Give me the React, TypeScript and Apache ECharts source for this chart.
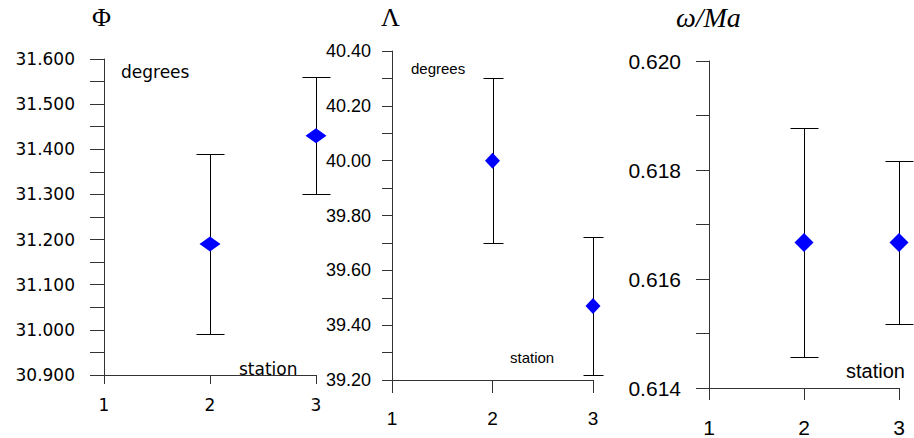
import React, { useEffect, useRef } from "react";
import * as echarts from "echarts";

// Station numbers on the x axis and the two measured stations
const stations = [2, 3];

// Φ (degrees): mean with lower / upper error limits
const phiValues = [31.19, 31.43];
const phiLow = [30.99, 31.3];
const phiHigh = [31.39, 31.56];

// Λ (degrees)
const lambdaValues = [40.0, 39.47];
const lambdaLow = [39.7, 39.22];
const lambdaHigh = [40.3, 39.72];

// ω/Ma
const omegaValues = [0.61667, 0.61667];
const omegaLow = [0.61457, 0.61517];
const omegaHigh = [0.61877, 0.61817];

const xTicks = [1, 2, 3];

type PanelStyle = {
  grid: { left: number; top: number; width: number; height: number };
  yMin: number;
  yMax: number;
  yStep: number;
  decimals: number;
  yFont: string;
  yFontSize: number;
  yMargin: number;
  yTick: number;
  xFont: string;
  xFontSize: number;
  xMargin: number;
  xTick: number;
  capHalf: number;
  symbol: [number, number];
};

const panels: PanelStyle[] = [
  {
    grid: { left: 104, top: 59, width: 212, height: 316 },
    yMin: 30.9,
    yMax: 31.6,
    yStep: 0.1,
    decimals: 3,
    yFont: "DejaVu Sans",
    yFontSize: 17,
    yMargin: 29,
    yTick: 14,
    xFont: "DejaVu Sans",
    xFontSize: 17,
    xMargin: 21,
    xTick: 9,
    capHalf: 14,
    symbol: [21, 15],
  },
  {
    grid: { left: 392, top: 51, width: 201, height: 329 },
    yMin: 39.2,
    yMax: 40.4,
    yStep: 0.2,
    decimals: 2,
    yFont: "Liberation Sans Narrow, Liberation Sans",
    yFontSize: 18,
    yMargin: 21,
    yTick: 10,
    xFont: "Liberation Sans Narrow, Liberation Sans",
    xFontSize: 19,
    xMargin: 29,
    xTick: 13,
    capHalf: 10,
    symbol: [15, 16],
  },
  {
    grid: { left: 709, top: 61, width: 190, height: 330 },
    yMin: 0.614,
    yMax: 0.62,
    yStep: 0.002,
    decimals: 3,
    yFont: "Liberation Sans",
    yFontSize: 21,
    yMargin: 28,
    yTick: 13,
    xFont: "Liberation Sans",
    xFontSize: 21,
    xMargin: 29,
    xTick: 12,
    capHalf: 14,
    symbol: [19, 19],
  },
];

const seriesData = [
  { values: phiValues, low: phiLow, high: phiHigh },
  { values: lambdaValues, low: lambdaLow, high: lambdaHigh },
  { values: omegaValues, low: omegaLow, high: omegaHigh },
];

const AXIS_COLOR = "#333";

// snap to the pixel centre so 1px strokes stay crisp
const crisp = (v: number) => Math.round(v) + 0.5;

export default function App() {
  const ref = useRef<HTMLDivElement>(null);

  useEffect(() => {
    if (!ref.current) return;
    const chart = echarts.init(ref.current, undefined, { renderer: "svg" });

    const grids = panels.map((p) => ({ ...p.grid, containLabel: false }));

    const xAxes = panels.map((p, i) => ({
      type: "value",
      gridIndex: i,
      min: xTicks[0],
      max: xTicks[xTicks.length - 1],
      interval: 1,
      axisLine: { show: true, lineStyle: { color: AXIS_COLOR, width: 1 } },
      axisTick: { show: true, length: p.xTick, lineStyle: { color: AXIS_COLOR } },
      axisLabel: {
        margin: p.xMargin,
        fontFamily: p.xFont,
        fontSize: p.xFontSize,
        color: "#000",
      },
      splitLine: { show: false },
    }));

    const yAxes = panels.map((p, i) => ({
      type: "value",
      gridIndex: i,
      min: p.yMin,
      max: p.yMax,
      interval: p.yStep,
      axisLine: { show: true, lineStyle: { color: AXIS_COLOR, width: 1 } },
      axisTick: { show: true, length: p.yTick, lineStyle: { color: AXIS_COLOR } },
      minorTick: {
        show: true,
        splitNumber: 2,
        length: p.yTick,
        lineStyle: { color: AXIS_COLOR, width: 1 },
      },
      axisLabel: {
        margin: p.yMargin,
        fontFamily: p.yFont,
        fontSize: p.yFontSize,
        color: "#000",
        formatter: (v: number) => v.toFixed(p.decimals),
      },
      splitLine: { show: false },
      minorSplitLine: { show: false },
    }));

    const series: any[] = [];
    seriesData.forEach((d, i) => {
      const p = panels[i];
      series.push({
        type: "custom",
        xAxisIndex: i,
        yAxisIndex: i,
        data: stations.map((s, k) => [s, d.low[k], d.high[k]]),
        renderItem: (_params: any, api: any) => {
          const x = api.value(0);
          const lo = api.coord([x, api.value(1)]);
          const hi = api.coord([x, api.value(2)]);
          const cx = crisp(lo[0]);
          const yLo = crisp(lo[1]);
          const yHi = crisp(hi[1]);
          const style = { stroke: "#000", lineWidth: 1 };
          return {
            type: "group",
            children: [
              { type: "line", shape: { x1: cx, y1: yLo, x2: cx, y2: yHi }, style },
              {
                type: "line",
                shape: { x1: cx - p.capHalf, y1: yHi, x2: cx + p.capHalf, y2: yHi },
                style,
              },
              {
                type: "line",
                shape: { x1: cx - p.capHalf, y1: yLo, x2: cx + p.capHalf, y2: yLo },
                style,
              },
            ],
          };
        },
        z: 2,
      });
      series.push({
        type: "scatter",
        xAxisIndex: i,
        yAxisIndex: i,
        symbol: "diamond",
        symbolSize: p.symbol,
        itemStyle: { color: "#0000ff", opacity: 1 },
        data: stations.map((s, k) => [s, d.values[k]]),
        z: 3,
      });
    });

    const graphic = [
      // panel titles
      {
        type: "text",
        left: 92,
        top: 4,
        style: { text: "Φ", font: "26px 'Liberation Serif'", fill: "#000" },
      },
      {
        type: "text",
        left: 381,
        top: 4,
        style: { text: "Λ", font: "26px 'Liberation Serif'", fill: "#000" },
      },
      {
        type: "text",
        left: 676,
        top: 3,
        style: { text: "ω/Ma", font: "italic 28px 'Liberation Serif'", fill: "#000" },
      },
      // unit and axis captions
      {
        type: "text",
        left: 121,
        top: 63,
        style: { text: "degrees", font: "17px 'DejaVu Sans'", fill: "#000" },
      },
      {
        type: "text",
        left: 239,
        top: 360,
        style: { text: "station", font: "17px 'DejaVu Sans'", fill: "#000" },
      },
      {
        type: "text",
        left: 411,
        top: 61,
        style: { text: "degrees", font: "15px 'Liberation Sans'", fill: "#000" },
      },
      {
        type: "text",
        left: 510,
        top: 350,
        style: { text: "station", font: "15px 'Liberation Sans'", fill: "#000" },
      },
      {
        type: "text",
        left: 846,
        top: 361,
        style: { text: "station", font: "20px 'Liberation Sans'", fill: "#000" },
      },
    ];

    chart.setOption({
      animation: false,
      backgroundColor: "#fff",
      grid: grids,
      xAxis: xAxes,
      yAxis: yAxes,
      series,
      graphic,
    });

    return () => chart.dispose();
  }, []);

  return (
    <div
      ref={ref}
      style={{ position: "fixed", left: 0, top: 0, width: 914, height: 438 }}
    />
  );
}
